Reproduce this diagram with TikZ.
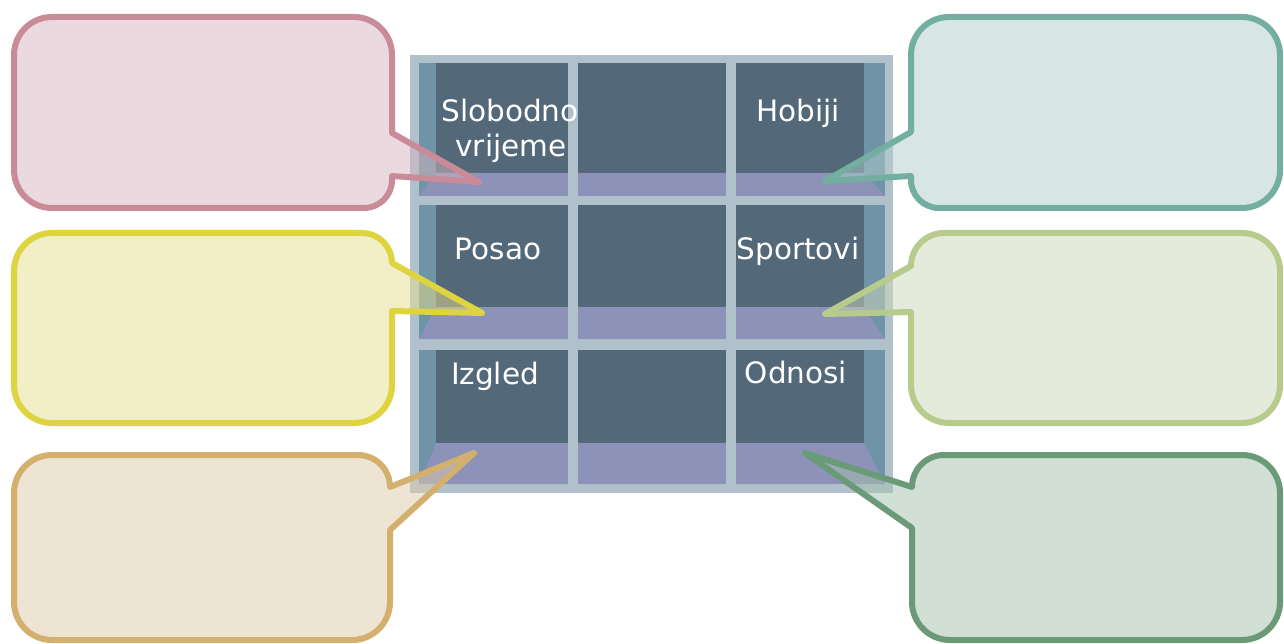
\documentclass[tikz,border=0pt]{standalone}
\usepackage{fontspec}
\setmainfont{DejaVu Sans}
\definecolor{frameC}{HTML}{B1C1CB}
\definecolor{wallC}{HTML}{6F93A7}
\definecolor{backC}{HTML}{536879}
\definecolor{floorC}{HTML}{8C92B8}
\definecolor{pinkS}{HTML}{C98B98}\definecolor{pinkF}{HTML}{D7B5C1}
\definecolor{yelS}{HTML}{DDD43F}\definecolor{yelF}{HTML}{E7DF8D}
\definecolor{tanS}{HTML}{D4B06E}\definecolor{tanF}{HTML}{DFCBA9}
\definecolor{tealS}{HTML}{73AFA0}\definecolor{tealF}{HTML}{B1CDCB}
\definecolor{lgrS}{HTML}{B6CB8C}\definecolor{lgrF}{HTML}{CDD9B7}
\definecolor{grS}{HTML}{6A9A78}\definecolor{grF}{HTML}{A7C1AD}
\tikzset{
  callout/.style={line width=6pt, line join=round, fill opacity=0.5},
  lbl/.style={text=white, font=\fontsize{29.5}{35}\selectfont, inner sep=0pt, anchor=base},
  shelfback/.style={fill=backC},
  shelffloor/.style={fill=floorC},
}
\begin{document}
\begin{tikzpicture}[x=1pt,y=-1pt]
\useasboundingbox[fill=white] (0,0) rectangle (1284,644);
% shelf frame
\fill[frameC] (410,55) rectangle (893,493);
\foreach \t/\bb/\b in {63/173/196, 205/307/339, 350/443/484}{
  \fill[wallC] (419,\t) rectangle (885,\b);
  \fill[shelfback] (436,\t) rectangle (864,\bb);
  \fill[shelffloor] (436,\bb) -- (864,\bb) -- (885,\b) -- (419,\b) -- cycle;
}
\fill[frameC] (568,55) rectangle (578,493);
\fill[frameC] (726,55) rectangle (736,493);
% callouts left
\draw[callout, draw=pinkS, fill=pinkF] (14,55) arc[start angle=180, end angle=270, radius=38] -- (354,17) arc[start angle=270, end angle=360, radius=38] -- (392,133) -- (479,182) -- (392,176) -- (392,180) arc[start angle=0, end angle=90, radius=28] -- (52,208) arc[start angle=90, end angle=180, radius=38] -- cycle;
\draw[callout, draw=yelS, fill=yelF] (14,271) arc[start angle=180, end angle=270, radius=38] -- (362,233) arc[start angle=270, end angle=360, radius=30] -- (482,313) -- (392,311) -- (392,385) arc[start angle=0, end angle=90, radius=38] -- (52,423) arc[start angle=90, end angle=180, radius=38] -- cycle;
\draw[callout, draw=tanS, fill=tanF] (14,493) arc[start angle=180, end angle=270, radius=38] -- (358,455) arc[start angle=270, end angle=360, radius=32] -- (474,453) -- (390,530) -- (390,602) arc[start angle=0, end angle=90, radius=38] -- (52,640) arc[start angle=90, end angle=180, radius=38] -- cycle;
% callouts right
\draw[callout, draw=tealS, fill=tealF] (911,55) arc[start angle=180, end angle=270, radius=38] -- (1242,17) arc[start angle=270, end angle=360, radius=38] -- (1280,170) arc[start angle=0, end angle=90, radius=38] -- (939,208) arc[start angle=90, end angle=180, radius=28] -- (911,176) -- (825,181) -- (911,132) -- cycle;
\draw[callout, draw=lgrS, fill=lgrF] (911,266) arc[start angle=180, end angle=270, radius=33] -- (1242,233) arc[start angle=270, end angle=360, radius=38] -- (1280,385) arc[start angle=0, end angle=90, radius=38] -- (949,423) arc[start angle=90, end angle=180, radius=38] -- (911,312) -- (825,314) -- cycle;
\draw[callout, draw=grS, fill=grF] (912,487) arc[start angle=180, end angle=270, radius=32] -- (1242,455) arc[start angle=270, end angle=360, radius=38] -- (1280,602) arc[start angle=0, end angle=90, radius=38] -- (950,640) arc[start angle=90, end angle=180, radius=38] -- (912,528) -- (805,453) -- cycle;
% labels
\node[lbl] (slobodno) at (510,122) {Slobodno};
\node[lbl] (vrijeme) at (511,157) {vrijeme};
\node[lbl] (hobiji) at (798,122) {Hobiji};
\node[lbl] (posao) at (498,259) {Posao};
\node[lbl] (sportovi) at (798,259) {Sportovi};
\node[lbl] (izgled) at (495,384) {Izgled};
\node[lbl] (odnosi) at (796,383) {Odnosi};
\end{tikzpicture}
\end{document}
